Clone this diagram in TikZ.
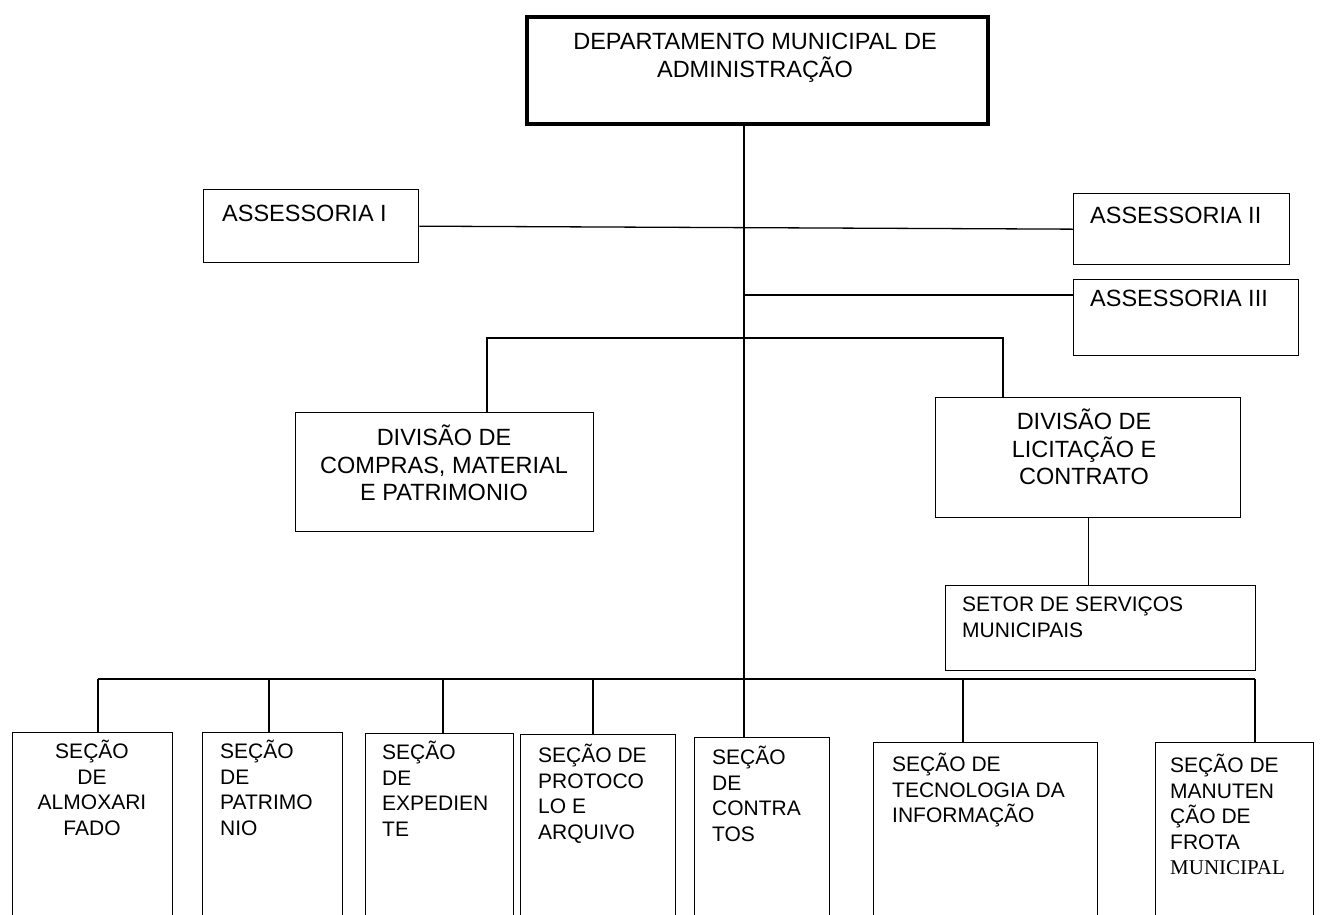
\documentclass[tikz,border=0pt]{standalone}
\usepackage{fontspec}
\setmainfont{Liberation Sans}
\newfontfamily\timesfont{Liberation Serif}
\usetikzlibrary{positioning}

\begin{document}
\begin{tikzpicture}[x=1pt, y=-1pt,
    caixa/.style={draw, line width=1.3pt, inner sep=0pt, anchor=north west},
    rotulo/.style={inner sep=0pt, anchor=north west, align=left, font=\fontsize{21}{25.5}\selectfont},
    rotulogr/.style={inner sep=0pt, align=center, font=\fontsize{23.5}{27.5}\selectfont},
    ligacao/.style={line width=1.3pt}]
	\clip (0,0) rectangle (1323,914);
	% departamento
	\node[caixa, line width=3.5pt, minimum width=461pt, minimum height=107pt] (dep) at (525,15) {};
	\node[rotulogr] (dept) at (755,58) {DEPARTAMENTO MUNICIPAL DE\\ADMINISTRAÇÃO};
	% assessorias
	\node[caixa, minimum width=215pt, minimum height=73pt] (as1) at (203,189) {};
	\node[rotulogr, anchor=north west] (as1t) at (222,205) {ASSESSORIA I};
	\node[caixa, minimum width=216pt, minimum height=71pt] (as2) at (1073,193) {};
	\node[rotulogr, anchor=north west] (as2t) at (1090,207) {ASSESSORIA II};
	\node[caixa, minimum width=225pt, minimum height=76pt] (as3) at (1073,279) {};
	\node[rotulogr, anchor=north west] (as3t) at (1090,290) {ASSESSORIA III};
	% divisoes
	\node[caixa, minimum width=298pt, minimum height=119pt] (dc) at (295,412) {};
	\node[rotulogr] (dct) at (444,463) {DIVISÃO DE\\COMPRAS, MATERIAL\\E PATRIMONIO};
	\node[caixa, minimum width=305pt, minimum height=120pt] (dl) at (935,397) {};
	\node[rotulogr] (dlt) at (1084,447) {DIVISÃO DE\\LICITAÇÃO E\\CONTRATO};
	\node[caixa, minimum width=310pt, minimum height=85pt] (st) at (945,585) {};
	\node[rotulo] (stt) at (962,597) {SETOR DE SERVIÇOS\\MUNICIPAIS};
	% secoes
	\node[caixa, minimum width=160pt, minimum height=200pt] (almox) at (12,732) {};
	\node[rotulo, anchor=north, align=center] (almoxt) at (92,740) {SEÇÃO\\DE\\ALMOXARI\\FADO};
	\node[caixa, minimum width=140pt, minimum height=200pt] (patr) at (202,732) {};
	\node[rotulo] (patrt) at (220,740) {SEÇÃO\\DE\\PATRIMO\\NIO};
	\node[caixa, minimum width=148pt, minimum height=200pt] (exped) at (365,733) {};
	\node[rotulo] (expedt) at (382,741) {SEÇÃO\\DE\\EXPEDIEN\\TE};
	\node[caixa, minimum width=155pt, minimum height=200pt] (prot) at (520,734) {};
	\node[rotulo] (prott) at (538,744) {SEÇÃO DE\\PROTOCO\\LO E\\ARQUIVO};
	\node[caixa, minimum width=135pt, minimum height=200pt] (contr) at (694,737) {};
	\node[rotulo] (contrt) at (712,746) {SEÇÃO\\DE\\CONTRA\\TOS};
	\node[caixa, minimum width=224pt, minimum height=200pt] (tecn) at (873,742) {};
	\node[rotulo] (tecnt) at (892,753) {SEÇÃO DE\\TECNOLOGIA DA\\INFORMAÇÃO};
	\node[caixa, minimum width=158pt, minimum height=200pt] (manut) at (1155,742) {};
	\node[rotulo] (manutt) at (1170,754) {SEÇÃO DE\\MANUTEN\\ÇÃO DE\\FROTA\\{\timesfont MUNICIPAL}};
	% ligacoes
	\coordinate (j3) at (744,295);
	\coordinate (jc) at (487,338);
	\coordinate (jl) at (1003,338);
	\coordinate (b1) at (98,679);
	\coordinate (b2) at (269,679);
	\coordinate (b3) at (443,679);
	\coordinate (b4) at (593,679);
	\coordinate (b5) at (744,679);
	\coordinate (b6) at (963,679);
	\coordinate (b7) at (1255,679);
	\draw[ligacao] (dep.south -| b5) -- (b5 |- contr.north);
	\draw[ligacao] (as1.east) -- (as2.west);
	\draw[ligacao] (j3) -- (j3 -| as3.west);
	\draw[ligacao] (jc |- dc.north) -- (jc) -- (jl) -- (jl |- dl.north);
	\draw[ligacao] (dl.south) -- (dl.south |- st.north);
	\draw[ligacao] (b1) -- (b7);
	\foreach \b/\c in {b1/almox, b2/patr, b3/exped, b4/prot, b6/tecn, b7/manut}
		\draw[ligacao] (\b) -- (\b |- \c.north);
\end{tikzpicture}
\end{document}
